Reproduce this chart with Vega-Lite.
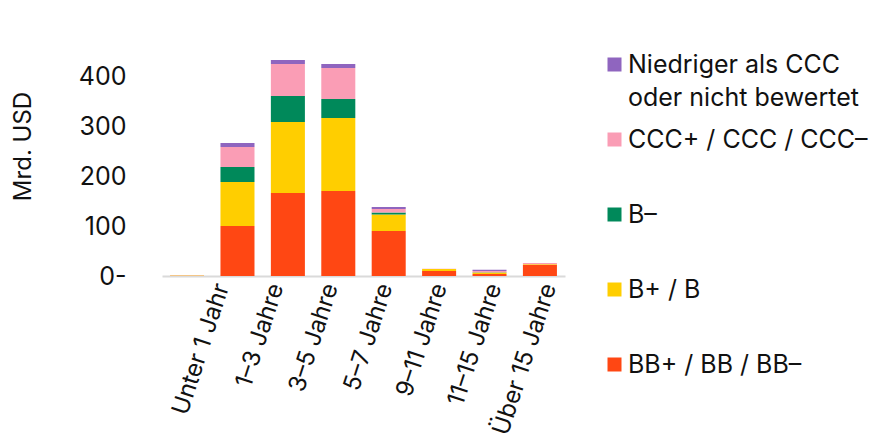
{
  "$schema": "https://vega.github.io/schema/vega-lite/v6.json",
  "width": 403,
  "height": 220,
  "autosize": {"type": "none"},
  "padding": {"left": 162, "top": 56, "right": 305, "bottom": 167},
  "background": "white",
  "config": {
    "font": "Inter",
    "view": {"stroke": null},
    "axis": {"labelColor": "#111111", "titleColor": "#111111"},
    "legend": {"labelColor": "#111111"}
  },
  "datasets": {
    "bars": [
      {"Laufzeit": "Unter 1 Jahr", "Rating": "BB+ / BB / BB–", "r": 1, "Wert": 0.3},
      {"Laufzeit": "Unter 1 Jahr", "Rating": "B+ / B", "r": 2, "Wert": 0.5},
      {"Laufzeit": "Unter 1 Jahr", "Rating": "B–", "r": 3, "Wert": 0},
      {"Laufzeit": "Unter 1 Jahr", "Rating": "CCC+ / CCC / CCC–", "r": 4, "Wert": 0},
      {"Laufzeit": "Unter 1 Jahr", "Rating": "Niedriger als CCC oder nicht bewertet", "r": 5, "Wert": 0},
      {"Laufzeit": "1–3 Jahre", "Rating": "BB+ / BB / BB–", "r": 1, "Wert": 100},
      {"Laufzeit": "1–3 Jahre", "Rating": "B+ / B", "r": 2, "Wert": 88},
      {"Laufzeit": "1–3 Jahre", "Rating": "B–", "r": 3, "Wert": 30},
      {"Laufzeit": "1–3 Jahre", "Rating": "CCC+ / CCC / CCC–", "r": 4, "Wert": 40},
      {"Laufzeit": "1–3 Jahre", "Rating": "Niedriger als CCC oder nicht bewertet", "r": 5, "Wert": 8},
      {"Laufzeit": "3–5 Jahre", "Rating": "BB+ / BB / BB–", "r": 1, "Wert": 166},
      {"Laufzeit": "3–5 Jahre", "Rating": "B+ / B", "r": 2, "Wert": 142},
      {"Laufzeit": "3–5 Jahre", "Rating": "B–", "r": 3, "Wert": 52},
      {"Laufzeit": "3–5 Jahre", "Rating": "CCC+ / CCC / CCC–", "r": 4, "Wert": 64},
      {"Laufzeit": "3–5 Jahre", "Rating": "Niedriger als CCC oder nicht bewertet", "r": 5, "Wert": 8},
      {"Laufzeit": "5–7 Jahre", "Rating": "BB+ / BB / BB–", "r": 1, "Wert": 170},
      {"Laufzeit": "5–7 Jahre", "Rating": "B+ / B", "r": 2, "Wert": 146},
      {"Laufzeit": "5–7 Jahre", "Rating": "B–", "r": 3, "Wert": 38},
      {"Laufzeit": "5–7 Jahre", "Rating": "CCC+ / CCC / CCC–", "r": 4, "Wert": 62},
      {"Laufzeit": "5–7 Jahre", "Rating": "Niedriger als CCC oder nicht bewertet", "r": 5, "Wert": 8},
      {"Laufzeit": "7–9 Jahre", "Rating": "BB+ / BB / BB–", "r": 1, "Wert": 90},
      {"Laufzeit": "7–9 Jahre", "Rating": "B+ / B", "r": 2, "Wert": 33},
      {"Laufzeit": "7–9 Jahre", "Rating": "B–", "r": 3, "Wert": 4},
      {"Laufzeit": "7–9 Jahre", "Rating": "CCC+ / CCC / CCC–", "r": 4, "Wert": 7},
      {"Laufzeit": "7–9 Jahre", "Rating": "Niedriger als CCC oder nicht bewertet", "r": 5, "Wert": 4},
      {"Laufzeit": "9–11 Jahre", "Rating": "BB+ / BB / BB–", "r": 1, "Wert": 10},
      {"Laufzeit": "9–11 Jahre", "Rating": "B+ / B", "r": 2, "Wert": 4},
      {"Laufzeit": "9–11 Jahre", "Rating": "B–", "r": 3, "Wert": 0},
      {"Laufzeit": "9–11 Jahre", "Rating": "CCC+ / CCC / CCC–", "r": 4, "Wert": 0.5},
      {"Laufzeit": "9–11 Jahre", "Rating": "Niedriger als CCC oder nicht bewertet", "r": 5, "Wert": 0},
      {"Laufzeit": "11–15 Jahre", "Rating": "BB+ / BB / BB–", "r": 1, "Wert": 4},
      {"Laufzeit": "11–15 Jahre", "Rating": "B+ / B", "r": 2, "Wert": 3},
      {"Laufzeit": "11–15 Jahre", "Rating": "B–", "r": 3, "Wert": 0.5},
      {"Laufzeit": "11–15 Jahre", "Rating": "CCC+ / CCC / CCC–", "r": 4, "Wert": 2.5},
      {"Laufzeit": "11–15 Jahre", "Rating": "Niedriger als CCC oder nicht bewertet", "r": 5, "Wert": 2.5},
      {"Laufzeit": "Über 15 Jahre", "Rating": "BB+ / BB / BB–", "r": 1, "Wert": 22},
      {"Laufzeit": "Über 15 Jahre", "Rating": "B+ / B", "r": 2, "Wert": 1.5},
      {"Laufzeit": "Über 15 Jahre", "Rating": "B–", "r": 3, "Wert": 0},
      {"Laufzeit": "Über 15 Jahre", "Rating": "CCC+ / CCC / CCC–", "r": 4, "Wert": 2.5},
      {"Laufzeit": "Über 15 Jahre", "Rating": "Niedriger als CCC oder nicht bewertet", "r": 5, "Wert": 0}
    ],
    "labels": [
      {"Label": "Unter 1 Jahr"},
      {"Label": "1–3 Jahre"},
      {"Label": "3–5 Jahre"},
      {"Label": "5–7 Jahre"},
      {"Label": "9–11 Jahre"},
      {"Label": "11–15 Jahre"},
      {"Label": "Über 15 Jahre"}
    ]
  },
  "layer": [
    {
      "data": {"name": "bars"},
      "mark": {"type": "bar"},
      "encoding": {
        "x": {
          "field": "Laufzeit",
          "type": "nominal",
          "sort": null,
          "scale": {"paddingInner": 0.325, "paddingOuter": 0.16},
          "axis": {"orient": "bottom", "labels": false, "ticks": false, "title": null, "domainColor": "#dadada", "domainWidth": 2}
        },
        "y": {
          "field": "Wert",
          "type": "quantitative",
          "stack": "zero",
          "scale": {"domain": [0, 440], "nice": false},
          "axis": {
            "values": [0, 100, 200, 300, 400],
            "labelExpr": "datum.value == 0 ? '0-' : datum.label",
            "labelFontSize": 25,
            "labelPadding": 36,
            "ticks": false,
            "tickSize": 0,
            "domain": false,
            "grid": false,
            "title": "Mrd. USD",
            "titleFontSize": 24,
            "titleFontWeight": "normal",
            "titleX": -127,
            "titleY": 90
          }
        },
        "color": {
          "field": "Rating",
          "type": "nominal",
          "scale": {
            "domain": ["Niedriger als CCC oder nicht bewertet", "CCC+ / CCC / CCC–", "B–", "B+ / B", "BB+ / BB / BB–"],
            "range": ["#8F65BF", "#FA9DB5", "#00895A", "#FFCE00", "#FF4713"]
          },
          "legend": {
            "orient": "none",
            "legendX": 440,
            "legendY": -4,
            "title": null,
            "symbolType": "square",
            "symbolSize": 196,
            "symbolStrokeWidth": 0,
            "labelFontSize": 25,
            "labelOffset": 1,
            "labelLimit": 400,
            "gridAlign": "all",
            "rowPadding": 16,
            "labelExpr": "datum.label == 'Niedriger als CCC oder nicht bewertet' ? ['Niedriger als CCC', 'oder nicht bewertet'] : datum.label",
            "encode": {"labels": {"update": {"lineHeight": {"value": 33}}}}
          }
        },
        "order": {"field": "r", "type": "quantitative"}
      }
    },
    {
      "data": {"name": "labels"},
      "mark": {"type": "point", "opacity": 0},
      "encoding": {
        "x": {
          "field": "Label",
          "type": "nominal",
          "sort": null,
          "scale": {"type": "point", "padding": 0.697, "align": 0.79},
          "axis": {"orient": "bottom", "labelAngle": -72, "labelFontSize": 24, "labelPadding": 8, "ticks": false, "tickSize": 0, "domain": false, "title": null}
        }
      }
    }
  ],
  "resolve": {"scale": {"x": "independent"}, "axis": {"x": "independent"}}
}
